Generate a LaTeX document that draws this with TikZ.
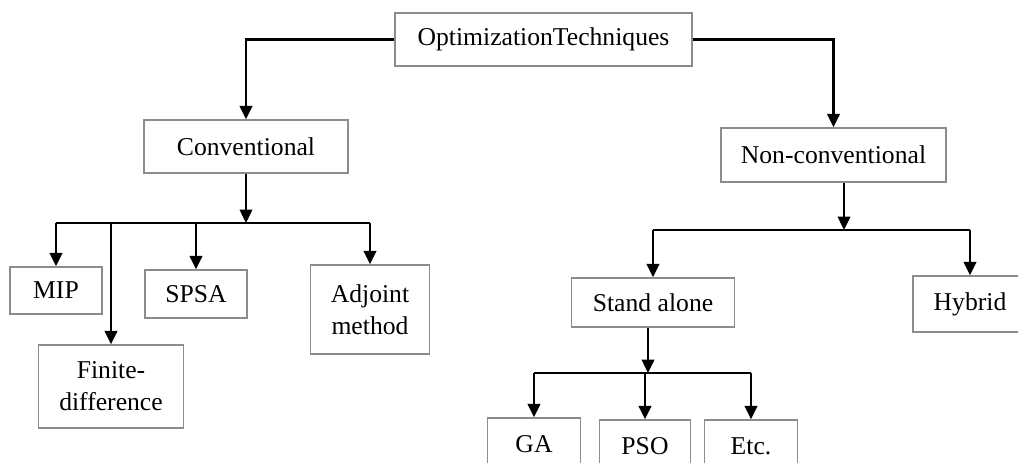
\documentclass[tikz,border=0pt]{standalone}
\usepackage{fontspec}
\setmainfont{Liberation Serif}
\usetikzlibrary{arrows.meta}

\begin{document}
\begin{tikzpicture}[
	box/.style={rectangle, draw=black!45, line width=0.8pt, align=center, inner sep=0pt,
		font=\fontsize{14.6}{18.2}\selectfont},
	arr/.style={line width=1.4pt, -{Triangle[width=0.25cm,length=0.27cm]}},
	bus/.style={line width=1.4pt}]
	\begin{scope}[x=0.02cm,y=-0.02cm]
	\useasboundingbox (0,0) rectangle (1018,463);
	\clip (0,0) rectangle (1018,463);
	% les boites
	\node (opt) at (543.5,39.5) [box, minimum width=5.94cm, minimum height=1.06cm] {OptimizationTechniques};
	\node (conv) at (246,146.5) [box, minimum width=4.08cm, minimum height=1.06cm] {Conventional};
	\node (nconv) at (833.5,155) [box, minimum width=4.5cm, minimum height=1.08cm] {Non-conventional};
	\node (mip) at (56,290.5) [box, minimum width=1.84cm, minimum height=0.94cm] {MIP};
	\node (spsa) at (196,294) [box, minimum width=2.04cm, minimum height=0.96cm] {SPSA};
	\node (adj) at (370,309.5) [box, minimum width=2.38cm, minimum height=1.78cm] {Adjoint\\method};
	\node (fin) at (111,386.5) [box, minimum width=2.9cm, minimum height=1.66cm] {Finite-\\difference};
	\node (stand) at (653,302.5) [box, minimum width=3.26cm, minimum height=0.98cm] {Stand alone};
	\node (hyb) at (970,304) [box, minimum width=2.28cm, minimum height=1.12cm] {Hybrid};
	\node (ga) at (534,444) [box, minimum width=1.86cm, minimum height=1.04cm] {GA};
	\node (pso) at (645,446) [box, minimum width=1.82cm, minimum height=1.04cm] {PSO};
	\node (etc) at (751,446) [box, minimum width=1.86cm, minimum height=1.04cm] {Etc.};
	% points des barres
	\coordinate (cbus) at (246,223);
	\coordinate (nbus) at (844,230);
	\coordinate (sbus) at (648,373);
	% premier niveau
	\draw[arr] (opt.west) -| (conv);
	\draw[arr] (opt.east) -| (nconv);
	% conventionnel
	\draw[arr] (conv) -- (cbus);
	\draw[bus] (mip |- cbus) -- (adj |- cbus);
	\draw[arr] (mip |- cbus) -- (mip);
	\draw[arr] (fin |- cbus) -- (fin);
	\draw[arr] (spsa |- cbus) -- (spsa);
	\draw[arr] (adj |- cbus) -- (adj);
	% non conventionnel
	\draw[arr] (nbus |- nconv.south) -- (nbus);
	\draw[bus] (stand |- nbus) -- (hyb |- nbus);
	\draw[arr] (stand |- nbus) -- (stand);
	\draw[arr] (hyb |- nbus) -- (hyb);
	% stand alone
	\draw[arr] (sbus |- stand.south) -- (sbus);
	\draw[bus] (ga |- sbus) -- (etc |- sbus);
	\draw[arr] (ga |- sbus) -- (ga);
	\draw[arr] (pso |- sbus) -- (pso);
	\draw[arr] (etc |- sbus) -- (etc);
	\end{scope}
\end{tikzpicture}
\end{document}
